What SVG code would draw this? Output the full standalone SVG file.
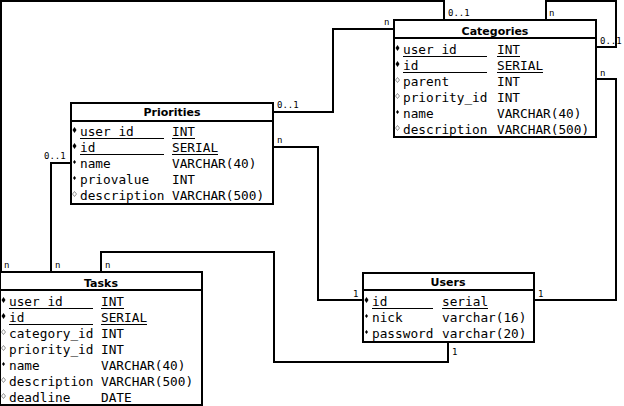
<svg xmlns="http://www.w3.org/2000/svg" width="624" height="406" viewBox="0 0 624 406">
<style>
.box{fill:#fff;stroke:#000;stroke-width:2}
.sep{stroke:#000;stroke-width:2}
.hd{font-family:"DejaVu Sans",sans-serif;font-weight:bold;font-size:11px;text-anchor:middle}
.at{font-family:"DejaVu Sans Mono",monospace;font-size:12.75px}
.ul{stroke:#000;stroke-width:1}
.lbl{font-family:"DejaVu Sans Mono",monospace;font-size:9px}
.con{fill:none;stroke:#000;stroke-width:2}
</style>
<defs>
<path id="pk" d="M0,-3 L2,0 L0,3 L-2,0 Z" fill="#000"/>
<path id="nn" d="M0,-2 L1.5,0 L0,2 L-1.5,0 Z" fill="#000"/>
<path id="nl" d="M0,-2.5 L2,0 L0,2.5 L-2,0 Z" fill="#fff" stroke="#777" stroke-width="0.8"/>
</defs>
<rect width="624" height="406" fill="#fff"/>
<g id="connectors">
<polyline class="con" points="1,272 1,1 444,1 444,20"/>
<polyline class="con" points="273,112 333,112 333,29 393,29"/>
<polyline class="con" points="546,20 546,1 616,1 616,47 596,47"/>
<polyline class="con" points="596,79 616,79 616,300 535,300"/>
<polyline class="con" points="273,147 318,147 318,300 362,300"/>
<polyline class="con" points="71,163 51,163 51,272"/>
<polyline class="con" points="101,272 101,252 274,252 274,362 448,362 448,342"/>
<text class="lbl" x="4" y="268">n</text>
<text class="lbl" x="448" y="16">0..1</text>
<text class="lbl" x="277" y="108">0..1</text>
<text class="lbl" x="384" y="25">n</text>
<text class="lbl" x="549" y="16">n</text>
<text class="lbl" x="600" y="44">0..1</text>
<text class="lbl" x="600" y="76">n</text>
<text class="lbl" x="538" y="297">1</text>
<text class="lbl" x="277" y="143">n</text>
<text class="lbl" x="353" y="297">1</text>
<text class="lbl" x="44" y="159">0..1</text>
<text class="lbl" x="55" y="268">n</text>
<text class="lbl" x="105" y="268">n</text>
<text class="lbl" x="452" y="355">1</text>
</g>
<g id="categories">
<rect class="box" x="394" y="20" width="202" height="117"/>
<line class="sep" x1="394" y1="38" x2="596" y2="38"/>
<text class="hd" x="495" y="35">Categories</text>
<use href="#pk" x="397.5" y="48"/><use href="#pk" x="397.5" y="64"/><use href="#nl" x="397.5" y="80"/><use href="#nl" x="397.5" y="96"/><use href="#nn" x="397.5" y="112"/><use href="#nl" x="397.5" y="128"/>
<text class="at" x="403" y="54">user_id</text><text class="at" x="497" y="54">INT</text>
<text class="at" x="403" y="70">id</text><text class="at" x="497" y="70">SERIAL</text>
<text class="at" x="403" y="86">parent</text><text class="at" x="497" y="86">INT</text>
<text class="at" x="403" y="102">priority_id</text><text class="at" x="497" y="102">INT</text>
<text class="at" x="403" y="118">name</text><text class="at" x="497" y="118">VARCHAR(40)</text>
<text class="at" x="403" y="134">description</text><text class="at" x="497" y="134">VARCHAR(500)</text>
<line class="ul" x1="403" y1="56.5" x2="487" y2="56.5"/><line class="ul" x1="497" y1="56.5" x2="520" y2="56.5"/>
<line class="ul" x1="403" y1="72.5" x2="487" y2="72.5"/><line class="ul" x1="497" y1="72.5" x2="543" y2="72.5"/>
</g>
<g id="priorities">
<rect class="box" x="71" y="103" width="202" height="101"/>
<line class="sep" x1="71" y1="121" x2="273" y2="121"/>
<text class="hd" x="172" y="116">Priorities</text>
<use href="#pk" x="74.5" y="130"/><use href="#pk" x="74.5" y="146"/><use href="#nn" x="74.5" y="162"/><use href="#nn" x="74.5" y="178"/><use href="#nl" x="74.5" y="194"/>
<text class="at" x="80" y="136">user_id</text><text class="at" x="172" y="136">INT</text>
<text class="at" x="80" y="152">id</text><text class="at" x="172" y="152">SERIAL</text>
<text class="at" x="80" y="168">name</text><text class="at" x="172" y="168">VARCHAR(40)</text>
<text class="at" x="80" y="184">priovalue</text><text class="at" x="172" y="184">INT</text>
<text class="at" x="80" y="200">description</text><text class="at" x="172" y="200">VARCHAR(500)</text>
<line class="ul" x1="80" y1="138.5" x2="164" y2="138.5"/><line class="ul" x1="172" y1="138.5" x2="195" y2="138.5"/>
<line class="ul" x1="80" y1="154.5" x2="164" y2="154.5"/><line class="ul" x1="172" y1="154.5" x2="218" y2="154.5"/>
</g>
<g id="tasks">
<rect class="box" x="0" y="272" width="202" height="133"/>
<line class="sep" x1="0" y1="290" x2="202" y2="290"/>
<text class="hd" x="101" y="287">Tasks</text>
<use href="#pk" x="3.5" y="300"/><use href="#pk" x="3.5" y="316"/><use href="#nl" x="3.5" y="332"/><use href="#nl" x="3.5" y="348"/><use href="#nn" x="3.5" y="364"/><use href="#nl" x="3.5" y="380"/><use href="#nl" x="3.5" y="396"/>
<text class="at" x="9" y="306">user_id</text><text class="at" x="101" y="306">INT</text>
<text class="at" x="9" y="322">id</text><text class="at" x="101" y="322">SERIAL</text>
<text class="at" x="9" y="338">category_id</text><text class="at" x="101" y="338">INT</text>
<text class="at" x="9" y="354">priority_id</text><text class="at" x="101" y="354">INT</text>
<text class="at" x="9" y="370">name</text><text class="at" x="101" y="370">VARCHAR(40)</text>
<text class="at" x="9" y="386">description</text><text class="at" x="101" y="386">VARCHAR(500)</text>
<text class="at" x="9" y="402">deadline</text><text class="at" x="101" y="402">DATE</text>
<line class="ul" x1="9" y1="308.5" x2="93" y2="308.5"/><line class="ul" x1="101" y1="308.5" x2="124" y2="308.5"/>
<line class="ul" x1="9" y1="324.5" x2="93" y2="324.5"/><line class="ul" x1="101" y1="324.5" x2="147" y2="324.5"/>
</g>
<g id="users">
<rect class="box" x="363" y="273" width="171" height="69"/>
<line class="sep" x1="363" y1="290" x2="534" y2="290"/>
<text class="hd" x="448" y="286">Users</text>
<use href="#pk" x="366.5" y="300"/><use href="#nn" x="366.5" y="316"/><use href="#nn" x="366.5" y="332"/>
<text class="at" x="372" y="306">id</text><text class="at" x="442" y="306">serial</text>
<text class="at" x="372" y="322">nick</text><text class="at" x="442" y="322">varchar(16)</text>
<text class="at" x="372" y="338">password</text><text class="at" x="442" y="338">varchar(20)</text>
<line class="ul" x1="372" y1="308.5" x2="433" y2="308.5"/><line class="ul" x1="442" y1="308.5" x2="488" y2="308.5"/>
</g>
</svg>
